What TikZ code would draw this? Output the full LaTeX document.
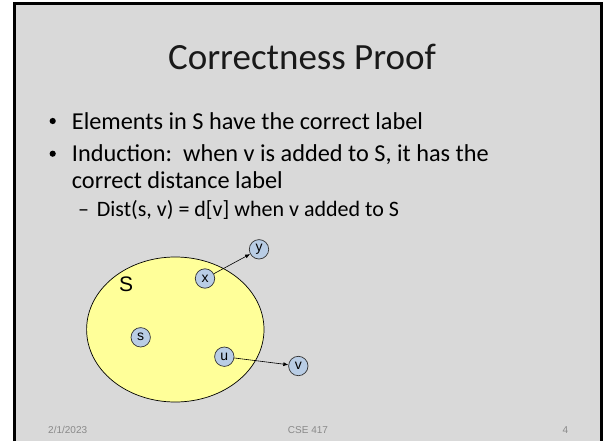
\documentclass[tikz,border=0pt]{standalone}
\usepackage{fontspec}
\setmainfont{Carlito}
\newfontfamily\arialfont{Liberation Sans}
\usetikzlibrary{arrows.meta,shapes.geometric}
\definecolor{slidegray}{HTML}{D9D9D9}
\definecolor{setyellow}{HTML}{FFFF99}
\definecolor{nodeblue}{HTML}{B9CDE5}
\definecolor{footgray}{HTML}{898989}
\begin{document}
\begin{tikzpicture}[x=1pt,y=-1pt,
  bodytxt/.style={anchor=base west, inner sep=0pt, font=\fontsize{24.3}{29}\selectfont},
  subtxt/.style={anchor=base west, inner sep=0pt, font=\fontsize{22}{26}\selectfont},
  bulletdot/.style={circle, fill=black, inner sep=0pt, minimum size=6.2pt},
  foot/.style={anchor=base, inner sep=0pt, font=\arialfont\fontsize{10}{10}\selectfont, text=footgray},
  vert/.style={circle, draw=black!80, line width=0.7pt, fill=nodeblue, minimum size=19.4pt, inner sep=0pt, font=\arialfont\fontsize{14}{14}\selectfont},
  arr/.style={-{Latex[length=5pt,width=4pt]}, line width=0.6pt}]
\useasboundingbox (0,0) rectangle (604,441);
\fill[white] (0,0) rectangle (604,441);
\fill[slidegray] (16,5) rectangle (600,441);
\draw[line width=3pt] (14.5,441) -- (14.5,3.5) -- (601.5,3.5) -- (601.5,441);
\node[anchor=base, inner sep=0pt, font=\fontsize{37}{37}\selectfont, text=black!90] (title) at (302,70) {Correctness Proof};
\node[bulletdot] (d1) at (52.7,121) {};
\node[bodytxt] (l1) at (71.7,129) {Elements in S have the correct label};
\node[bulletdot] (d2) at (52.7,153.7) {};
\node[bodytxt] (l2) at (71.7,161.7) {Induction:\ \ when v is added to S, it has the};
\node[bodytxt] (l3) at (71.7,188.3) {correct distance label};
\node[subtxt] (d3) at (78,216.7) {–};
\node[subtxt] (l4) at (96.7,216.7) {Dist(s, v) = d[v] when v added to S};
\node[ellipse, draw, line width=0.7pt, fill=setyellow, minimum width=177.4pt, minimum height=145pt, inner sep=0pt] (set) at (175.3,329.5) {};
\node[anchor=base west, inner sep=0pt, font=\arialfont\fontsize{21}{21}\selectfont] (slab) at (119,291.7) {S};
\node[vert] (x) at (205,278.5) {x};
\node[vert] (y) at (259,249.3) {y};
\node[vert] (s) at (140.7,337.3) {s};
\node[vert] (u) at (224.3,356.7) {u};
\node[vert] (v) at (298.3,366) {v};
\draw[arr] (x) -- (y);
\draw[arr] (u) -- (v);
\node[foot, anchor=base west] (date) at (48,433) {2/1/2023};
\node[foot] (course) at (308,433) {CSE 417};
\node[foot] (page) at (565.5,433) {4};
\end{tikzpicture}
\end{document}
